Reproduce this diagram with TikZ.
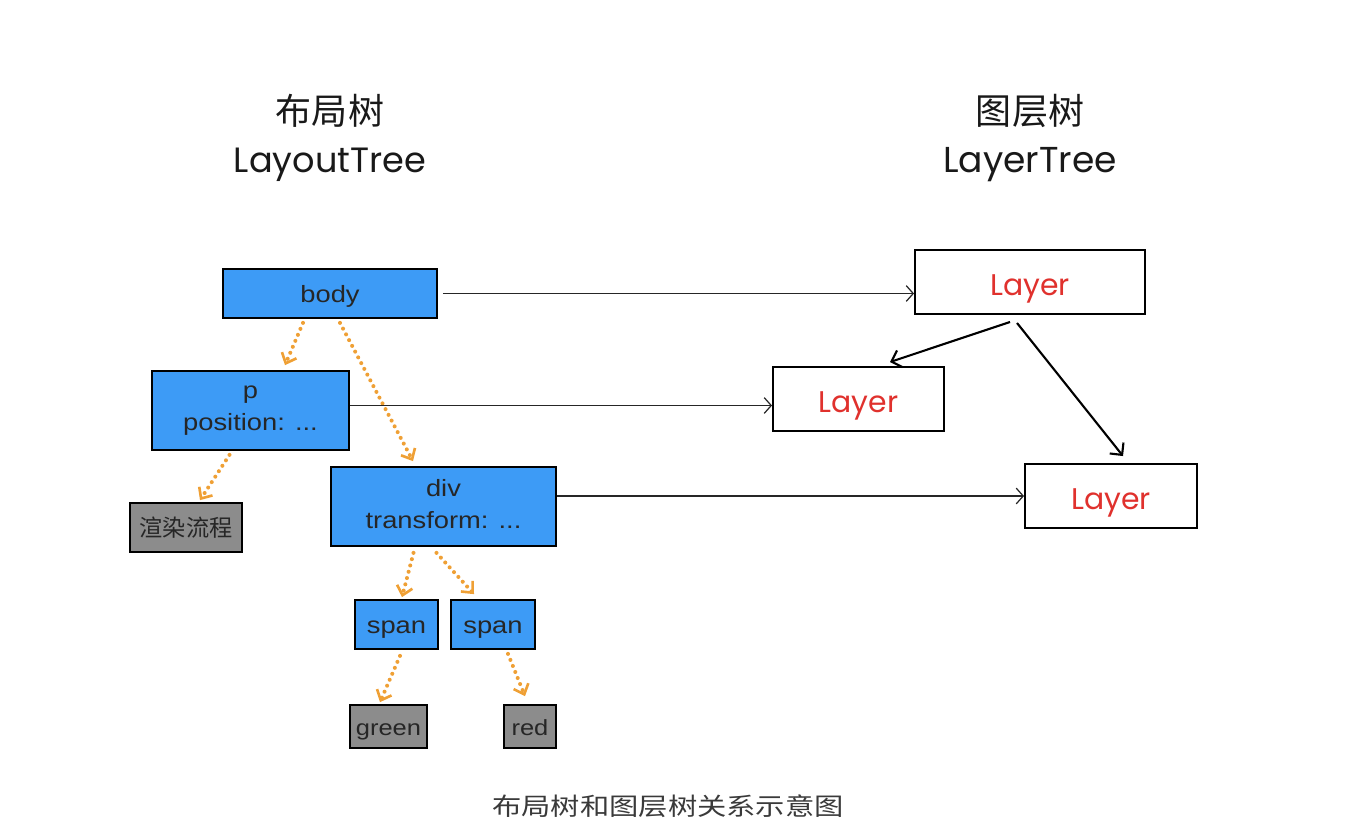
\documentclass[tikz,border=0pt]{standalone}
\usepackage{fontspec}
\usepackage{tikz}
\usetikzlibrary{arrows.meta, positioning, calc}

\newfontfamily\cjkfont{Noto Sans CJK SC}
\newfontfamily\cjkwide[FakeStretch=1.2]{Noto Sans CJK SC}
\newfontfamily\boxfont[FakeStretch=1.16]{Liberation Sans}
\newfontfamily\handfont{Poppins}

\newcommand{\boxstrut}{\rule[-3pt]{0pt}{16.5pt}}
\newcommand{\pairstrut}{\rule[-3pt]{0pt}{19pt}}
\newcommand{\layerstrut}{\rule[-3pt]{0pt}{23pt}}

\definecolor{boxblue}{HTML}{3D9BF6}
\definecolor{boxgray}{HTML}{8C8C8C}
\definecolor{dotorange}{HTML}{EFA035}
\definecolor{layerred}{HTML}{E0312D}
\definecolor{captiongray}{HTML}{3A3A3A}

\begin{document}
\begin{tikzpicture}[
  x=0.02cm, y=-0.02cm,
  elem/.style  = {draw=black, line width=1pt, fill=boxblue, inner sep=0pt,
                  align=center, font=\boxfont\fontsize{13.4}{18}\selectfont, text=black!85,
                  execute at begin node=\boxstrut, execute at end node=\boxstrut},
  pair/.style  = {elem, execute at begin node=\pairstrut},
  leaf/.style  = {draw=black, line width=1pt, fill=boxgray, inner sep=0pt, text=black!85,
                  execute at begin node=\boxstrut, execute at end node=\boxstrut},
  layer/.style = {draw=black, line width=1.1pt, fill=white, inner sep=0pt,
                  minimum height=1.28cm, text=layerred,
                  font=\handfont\fontsize{17}{19}\selectfont,
                  execute at begin node=\layerstrut},
  title/.style = {inner sep=0pt, text=black!90},
  dotarrow/.style = {dotorange, line width=2.3pt, dash pattern=on 0pt off 3.7pt,
                     line cap=round, -{Straight Barb[length=5pt, width=9pt, line width=1.5pt]}},
  maparrow/.style = {black!85, line width=0.7pt, -{Straight Barb[length=4pt, width=9pt]}},
  treearrow/.style = {black, line width=1.2pt, -{Straight Barb[length=5pt, width=10pt]}},
]
  \useasboundingbox (0,0) rectangle (1366,836);

  % titles
  \node[title, font=\cjkfont\fontsize{20.5}{22}\selectfont]            (ltzh) at (330,111) {布局树};
  \node[title, anchor=base, font=\handfont\fontsize{20}{22}\selectfont] (lten) at (330,172) {LayoutTree};
  \node[title, font=\cjkfont\fontsize{20.5}{22}\selectfont]            (rtzh) at (1030,111) {图层树};
  \node[title, anchor=base, font=\handfont\fontsize{20.5}{22}\selectfont] (rten) at (1030,172) {LayerTree};

  % layout tree
  \node[elem, minimum width=4.28cm, minimum height=0.98cm] (body)  at (330,293.5) {body};
  \node[pair, minimum width=3.94cm, minimum height=1.58cm] (p)     at (250.5,410.5) {p\\position: ...};
  \node[pair, minimum width=4.50cm, minimum height=1.58cm] (div)   at (443.5,506.5) {div\\transform: ...};
  \node[leaf, minimum width=2.24cm, minimum height=0.98cm,
        font=\cjkfont\fontsize{13.2}{15}\selectfont]        (render) at (186,527.5) {渲染流程};
  \node[elem, minimum width=1.66cm, minimum height=0.98cm] (spanl) at (396.5,624.5) {span};
  \node[elem, minimum width=1.68cm, minimum height=0.98cm] (spanr) at (493,624.5) {span};
  \node[leaf, minimum width=1.54cm, minimum height=0.86cm,
        font=\boxfont\fontsize{12.5}{15}\selectfont]        (green) at (388.5,726.5) {green};
  \node[leaf, minimum width=1.04cm, minimum height=0.86cm,
        font=\boxfont\fontsize{12.5}{15}\selectfont]        (red)   at (530,726.5) {red};

  % layer tree
  \node[layer, minimum width=4.60cm] (layertop) at (1030,282)  {Layer};
  \node[layer, minimum width=3.42cm] (layerp)   at (858.5,399) {Layer};
  \node[layer, minimum width=3.44cm] (layerdiv) at (1111,496)  {Layer};

  % parent -> child in the layout tree
  \draw[dotarrow] ($(body.south)+(-27,4)$)  -- ($(p.north)+(34.5,-5)$);
  \draw[dotarrow] ($(body.south)+(10,4)$)   -- ($(div.north)+(-30.5,-5)$);
  \draw[dotarrow] ($(p.south)+(-21,4)$)     -- ($(render.north)+(14,-2)$);
  \draw[dotarrow] ($(div.south)+(-30,6)$)   -- ($(spanl.north)+(5.5,-2)$);
  \draw[dotarrow] ($(div.south)+(-7,6)$)    -- ($(spanr.north)+(-19,-5)$);
  \draw[dotarrow] ($(spanl.south)+(3.5,6)$) -- ($(green.north)+(-8.5,-2)$);
  \draw[dotarrow] ($(spanr.south)+(15,4)$)  -- ($(red.north)+(-5,-8)$);

  % layout node -> layer
  \coordinate (bodyout) at ($(body.east)+(5,0)$);
  \coordinate (pout)    at ($(p.east)+(0,-5)$);
  \draw[maparrow] (bodyout) -- (bodyout -| layertop.west);
  \draw[maparrow] (pout)    -- (pout -| layerp.west);
  \draw[maparrow] (div.east |- layerdiv.west) -- (layerdiv.west);

  % parent -> child in the layer tree
  \draw[treearrow] ($(layertop.south)+(-20,7)$) -- ($(layerp.north)+(31.5,-4)$);
  \draw[treearrow] ($(layertop.south)+(-13,8)$) -- ($(layerdiv.north)+(12,-7)$);

  % caption
  \node[title, text=captiongray, font=\cjkwide\fontsize{13.9}{16}\selectfont] (caption) at (668,806)
    {布局树和图层树关系示意图};
\end{tikzpicture}
\end{document}
